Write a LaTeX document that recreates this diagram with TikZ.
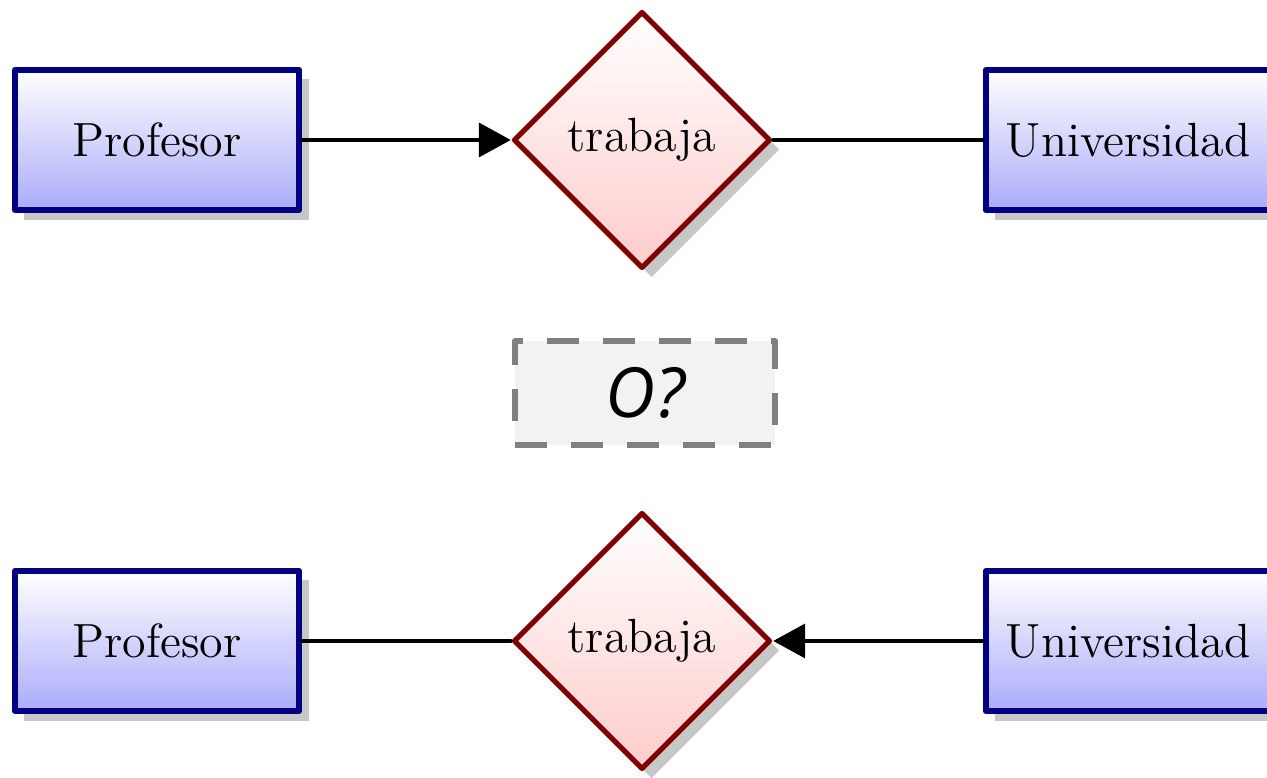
\documentclass[tikz,border=0pt]{standalone}
\usepackage{fontspec}
\newfontfamily\questionfont{Open Sans}
\usepackage{tikz}
\usetikzlibrary{arrows.meta}
\usetikzlibrary{shapes.geometric}
\usetikzlibrary{shadows}
\definecolor{navyblue}{rgb}{0,0,0.5}
\definecolor{darkred}{rgb}{0.5,0,0}
\definecolor{lightviolet}{rgb}{0.67,0.67,0.98}
\definecolor{shadowgray}{rgb}{0.78,0.78,0.78}
\tikzset{
  softshadow/.style={drop shadow={shadow xshift=2.4pt, shadow yshift=-2.4pt, fill=shadowgray, opacity=1}},
  entity/.style={rectangle, draw=navyblue, line width=1.4pt, top color=white, bottom color=lightviolet,
    minimum width=71.1pt, minimum height=35.1pt, inner sep=4pt, font=\large, softshadow},
  relation/.style={diamond, aspect=1, draw=darkred, line width=1.3pt, top color=white, bottom color=red!20,
    minimum size=64.3pt, inner sep=0pt, font=\large, softshadow},
  question/.style={rectangle, draw=gray, fill=black!5, line width=1.6pt, line cap=butt,
    dash pattern=on 8pt off 6pt, minimum width=65.1pt, minimum height=25.9pt, font=\questionfont\itshape\LARGE},
  link/.style={line width=0.95pt},
  linkarrow/.style={-{Triangle[length=8pt, width=8.5pt]}}
}
\begin{document}
\begin{tikzpicture}[line cap=round,line join=round,x=25pt,y=25pt]
\useasboundingbox (0,0) rectangle (12.67,7.78);
% primera variante
\node[entity] (prof1) at (1.57,6.38) {Profesor};
\node[relation] (trab1) at (6.42,6.38) {trabaja};
\node[entity] (univ1) at (11.28,6.38) {Universidad};
\draw[link, linkarrow] (prof1) -- (trab1);
\draw[link] (trab1) -- (univ1);
% pregunta
\node[question] (duda) at (6.45,3.85) {O?};
% segunda variante
\node[entity] (prof2) at (1.57,1.37) {Profesor};
\node[relation] (trab2) at (6.42,1.37) {trabaja};
\node[entity] (univ2) at (11.28,1.37) {Universidad};
\draw[link] (prof2) -- (trab2);
\draw[link, linkarrow] (univ2) -- (trab2);
\end{tikzpicture}
\end{document}
